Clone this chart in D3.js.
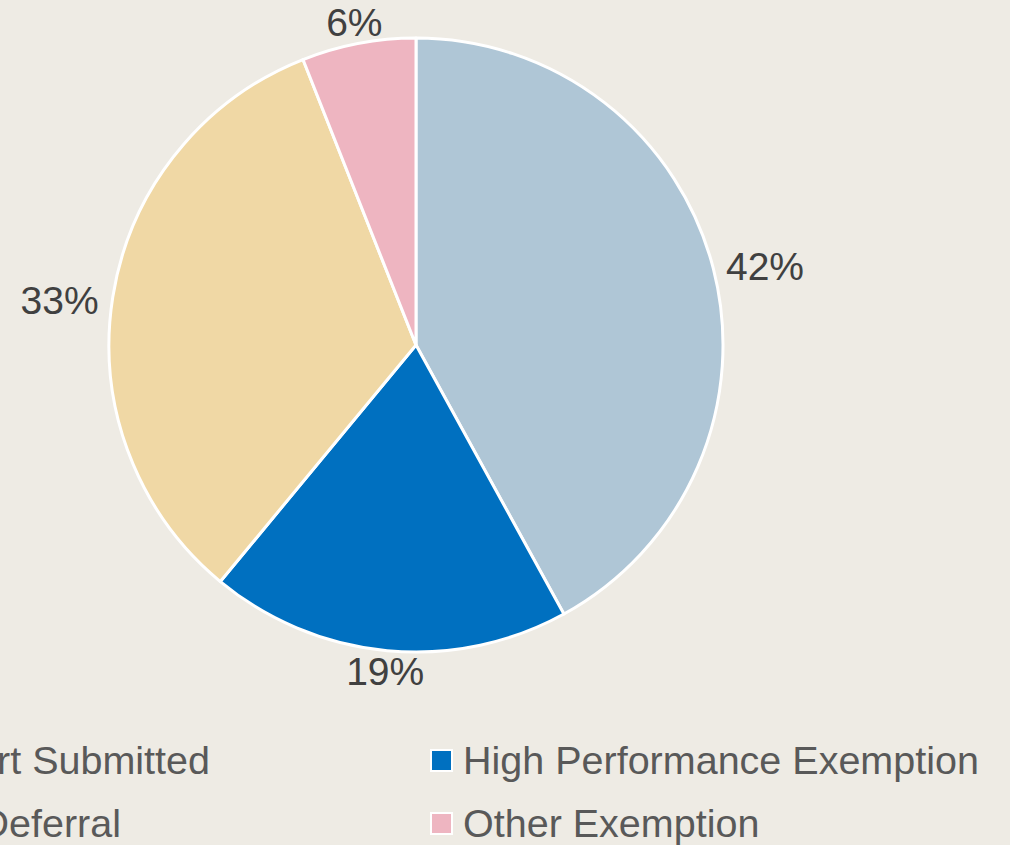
<!DOCTYPE html>
<html><head><meta charset="utf-8">
<script src="https://cdn.jsdelivr.net/npm/d3@7"></script>
<style>html,body{margin:0;padding:0;background:#EEEBE4;overflow:hidden}</style>
</head><body>
<svg id="c" width="1010" height="845"></svg>
<script>
const categories = ["Report Submitted", "High Performance Exemption", "Deferral", "Other Exemption"];
const values = [42, 19, 33, 6];
const labels = ["42%", "19%", "33%", "6%"];
const colors = ["#AFC6D6", "#0070C0", "#F0D8A5", "#EEB5C1"];

const svg = d3.select("#c");
svg.append("rect").attr("width",1010).attr("height",845).attr("fill","#EEEBE4");
const cx = 416, cy = 345, r = 307;
const g = svg.append("g").attr("transform", `translate(${cx},${cy})`);
const pie = d3.pie().sort(null).value(d => d)(values);
const arc = d3.arc().innerRadius(0).outerRadius(r);
g.selectAll("path").data(pie).enter().append("path")
  .attr("d", arc).attr("fill", (d,i) => colors[i])
  .attr("stroke", "#fff").attr("stroke-width", 3).attr("stroke-linejoin","round");

const font = "'Liberation Sans', Arial, sans-serif";
g.selectAll("text.lbl").data(pie).enter().append("text")
  .attr("class","lbl")
  .attr("font-family", font).attr("font-size", 39).attr("fill", "#404040")
  .attr("text-anchor","middle").attr("dominant-baseline","central")
  .text((d,i) => labels[i])
  .each(function(d){
    const a = (d.startAngle + d.endAngle)/2;
    const bb = this.getBBox();
    const s = Math.sin(a), c = -Math.cos(a);
    const off = r + 15 + Math.abs(s)*bb.width/2 + Math.abs(c)*2;
    d3.select(this).attr("x", s*off).attr("y", c*off + 12*s*s);
  });

// legend
const leg = svg.append("g");
const rowsY = [760, 823];
categories.forEach((name, i) => {
  const col = i % 2, row = Math.floor(i/2);
  const y = rowsY[row];
  if (col === 1) {
    leg.append("rect").attr("x", 431).attr("y", y-10).attr("width", 21).attr("height", 21)
      .attr("fill", colors[i]).attr("stroke","#fff").attr("stroke-width",2);
    leg.append("text").attr("x", 463).attr("y", y).attr("dominant-baseline","central")
      .attr("font-family", font).attr("font-size", 39.5).attr("fill","#595959").text(name);
  } else {
    leg.append("text").attr("x", row === 0 ? 210 : 121).attr("y", y).attr("text-anchor","end")
      .attr("dominant-baseline","central")
      .attr("font-family", font).attr("font-size", 39.5).attr("fill","#595959").text(name);
  }
});
</script>
</body></html>
